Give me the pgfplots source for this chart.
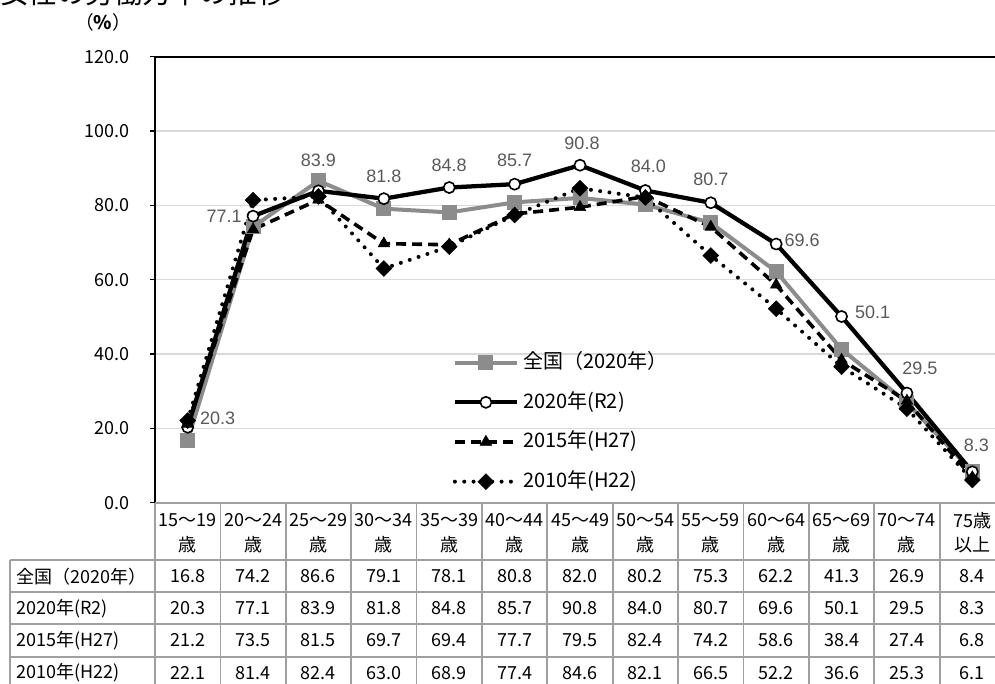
\documentclass[border=0pt]{standalone}
\usepackage{fontspec}
\newfontfamily\gothic{Noto Sans CJK JP}
\newfontfamily\labfont{Liberation Sans}
\usepackage{pgfplots}
\pgfplotsset{compat=1.18}
\usepackage{pgfplotstable}

\definecolor{zgray}{HTML}{8C8C8C}
\definecolor{gridc}{HTML}{D9D9D9}
\definecolor{tabc}{HTML}{A0A0A0}
\definecolor{labc}{HTML}{595959}

\pgfkeys{/pgf/number format/assume math mode=true}

% x: age group index, zk: 全国(2020), r2/h27/h22: 2020/2015/2010, dx/dy: label offset (px)
\pgfplotstableread{
x  zk    r2    h27   h22   dx   dy
0  16.8  20.3  21.2  22.1  30   9
1  74.2  77.1  73.5  81.4  -29  0
2  86.6  83.9  81.5  82.4  0    31
3  79.1  81.8  69.7  63.0  0    22
4  78.1  84.8  69.4  68.9  0    22.5
5  80.8  85.7  77.7  77.4  0    24
6  82.0  90.8  79.5  84.6  2    22
7  80.2  84.0  82.4  82.1  3    24
8  75.3  80.7  74.2  66.5  0    23
9  62.2  69.6  58.6  52.2  26   4
10 41.3  50.1  38.4  36.6  31   4.5
11 26.9  29.5  27.4  25.3  13   25
12 8.4   8.3   6.8   6.1   4    27
}\data

\begin{document}
\begin{tikzpicture}
\path[use as bounding box] (0,0) rectangle (746.25pt,513pt);
\clip (0,0) rectangle (746.25pt,513pt);

\begin{axis}[
    at={(116.25pt,135.975pt)}, anchor=south west,
    width=637.5pt, height=334.5pt, scale only axis,
    xmin=-0.5, xmax=12.5, ymin=0, ymax=120,
    xtick=\empty,
    ytick={0,20,...,120},
    yticklabels={0.0,20.0,40.0,60.0,80.0,100.0,120.0},
    yticklabel style={font=\gothic\fontsize{13.5pt}{16pt}\selectfont, anchor=east, inner sep=0pt},
    yticklabel shift=15pt,
    ytick pos=left,
    tick align=outside, major tick length=3.75pt,
    ytick style={black, line width=1pt},
    ymajorgrids, grid style={draw=gridc, line width=1.2pt},
    axis line style={draw=none},
    clip=false,
    legend cell align=left,
    legend style={at={(0.35,0.337)}, anchor=north west, draw=none, fill=none,
        inner sep=0pt, row sep=14.75pt,
        font=\gothic\fontsize{15pt}{18pt}\selectfont,
        nodes={text height=12pt, text depth=3pt, inner ysep=0pt, inner xsep=3pt}},
    legend image code/.code={
        \draw[mark repeat=2,mark phase=2] plot coordinates {(0pt,0pt)(23.25pt,0pt)(46.5pt,0pt)};},
]
\addplot[zgray, line width=3pt, mark=square*, mark size=5.25pt,
    mark options={solid, fill=zgray, draw=zgray, line width=0pt}]
    table[x=x, y=zk]{\data};
\addlegendentry{全国（2020年）}

\addplot[black, line width=3.2pt, mark=*, mark size=4.2pt,
    mark options={solid, fill=white, draw=black, line width=1.2pt},
    visualization depends on={\thisrow{dx} \as \ldx},
    visualization depends on={\thisrow{dy} \as \ldy},
    point meta=y,
    nodes near coords={\pgfmathprintnumber[fixed,fixed zerofill,precision=1]{\pgfplotspointmeta}},
    nodes near coords style={font=\labfont\fontsize{13.5pt}{16pt}\selectfont, text=labc,
        anchor=center, inner sep=0pt, xshift=\ldx*0.75pt, yshift=\ldy*0.75pt}]
    table[x=x, y=r2]{\data};
\addlegendentry{2020年(R2)}

\addplot[black, line width=2.7pt, dash pattern=on 7.5pt off 4.5pt,
    mark=triangle*, mark size=5pt,
    mark options={solid, fill=black, line width=0.4pt}]
    table[x=x, y=h27]{\data};
\addlegendentry{2015年(H27)}

\addplot[black, line width=3pt, line cap=round, dash pattern=on 0pt off 7pt,
    mark=square*, mark size=4.2pt,
    mark options={solid, rotate=45, fill=black, line width=0.4pt}]
    table[x=x, y=h22]{\data};
\addlegendentry{2010年(H22)}

\draw[black, line width=1.4pt] (rel axis cs:0,0) -- (rel axis cs:0,1) -- (rel axis cs:1,1);
\end{axis}

% title, unit and data table, in pixel coordinates (y down)
\begin{scope}[x=0.75pt, y=-0.75pt, shift={(0pt,513pt)}]
\def\cw{65.385}
\node[font=\gothic\fontsize{21.4pt}{24pt}\selectfont, anchor=base west, inner sep=0pt] at (0,3.5) {女性の労働力率の推移};
\node[font=\gothic\fontsize{14pt}{16pt}\selectfont, inner sep=0pt] at (103,22) {（\textbf{\%}）};

\begin{scope}[tabc, line width=1.3pt]
\draw (155,502.7) -- (1010,502.7);
\foreach \yy in {560,592.3,624.3,656.7,689} \draw (10,\yy) -- (1010,\yy);
\draw (10,560) -- (10,695);
\foreach \k in {0,...,13} \draw ({155+\k*\cw},502.7) -- ({155+\k*\cw},695);
\end{scope}

\foreach \a/\b [count=\k from 0] in {15～19/歳,20～24/歳,25～29/歳,30～34/歳,35～39/歳,40～44/歳,45～49/歳,50～54/歳,55～59/歳,60～64/歳,65～69/歳,70～74/歳,75歳/以上} {
  \node[font=\gothic\fontsize{13.5pt}{16pt}\selectfont, inner sep=0pt] at ({155+(\k+0.5)*\cw},520.5) {\a};
  \node[font=\gothic\fontsize{13.5pt}{16pt}\selectfont, inner sep=0pt] at ({155+(\k+0.5)*\cw},545) {\b};
}

\foreach \lab/\col/\yy in {全国（2020年）/zk/576.2, 2020年(R2)/r2/608.3, 2015年(H27)/h27/640.5, 2010年(H22)/h22/672.9} {
  \node[font=\gothic\fontsize{13.5pt}{16pt}\selectfont, inner sep=0pt, anchor=west] at (16,\yy) {\lab};
  \foreach \k in {0,...,12} {
    \pgfplotstablegetelem{\k}{\col}\of\data
    \node[font=\gothic\fontsize{13.5pt}{16pt}\selectfont, inner sep=0pt] at ({155+(\k+0.5)*\cw},\yy)
      {\pgfmathprintnumber[fixed,fixed zerofill,precision=1]{\pgfplotsretval}};
  }
}
\end{scope}
\end{tikzpicture}
\end{document}
